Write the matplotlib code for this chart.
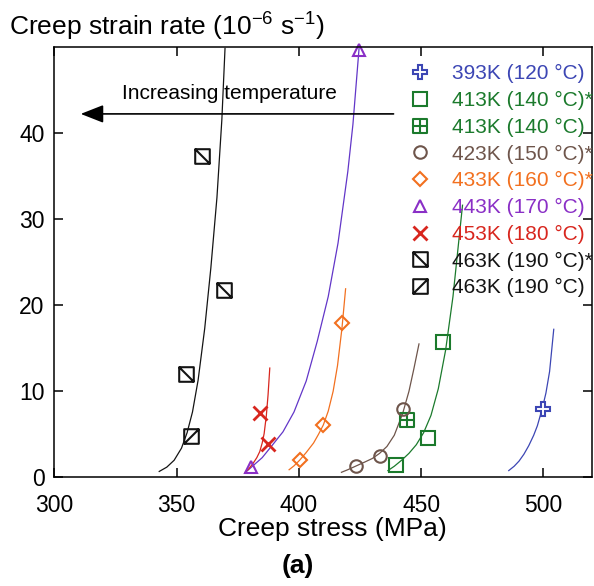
import matplotlib
matplotlib.use("Agg")
import matplotlib.pyplot as plt
from matplotlib.path import Path

plt.rcParams['font.family'] = ['Liberation Sans', 'DejaVu Sans']
plt.rcParams['mathtext.default'] = 'regular'

# measured points (stress MPa, creep strain rate 1e-6 /s)
x_393 = [500.0]
y_393 = [8.0]
x_413s = [439.6, 452.7, 458.9]
y_413s = [1.5, 4.6, 15.7]
x_413 = [444.2]
y_413 = [6.7]
x_423s = [423.5, 433.0, 442.4]
y_423s = [1.35, 2.55, 7.9]
x_433s = [400.3, 410.0, 417.6]
y_433s = [2.0, 6.1, 17.9]
x_443 = [380.6, 424.6]
y_443 = [1.2, 49.6]
x_453 = [384.0, 387.4]
y_453 = [7.5, 3.9]
x_463s = [353.8, 360.2, 369.3]
y_463s = [12.0, 37.3, 21.8]
x_463 = [356.0]
y_463 = [4.8]

# fitted curves
fit_393_x = [485.8, 488, 490, 492, 494, 496, 497.5, 499.5, 501, 502.5, 504.2]
fit_393_y = [0.8, 1.3, 1.9, 2.7, 3.7, 4.9, 6.0, 8.0, 9.8, 12.3, 17.2]
fit_413_x = [436.4, 439, 442, 445, 448, 451, 454, 457, 460, 463, 466.9]
fit_413_y = [0.8, 1.3, 2.0, 2.8, 3.8, 5.2, 7.2, 10.3, 14.8, 21.0, 31.6]
fit_423_x = [417.4, 420, 423.5, 427, 430, 433, 436, 439, 442.4, 445, 447, 449.1]
fit_423_y = [0.6, 0.9, 1.35, 1.8, 2.2, 2.8, 3.6, 4.9, 7.4, 10.0, 12.6, 15.5]
fit_433_x = [396.0, 398, 400.3, 403, 406, 408, 410, 412, 414, 415.8, 417.6, 419.1]
fit_433_y = [0.9, 1.35, 2.0, 2.9, 4.0, 5.0, 6.1, 7.7, 10.0, 13.0, 17.3, 21.9]
fit_443_x = [378.2, 381, 385, 389, 393.5, 398, 403, 407.5, 412, 416, 420, 422.1, 424.6]
fit_443_y = [0.6, 1.3, 2.3, 3.7, 5.3, 7.6, 11.2, 15.8, 21.0, 27.2, 35.5, 41.0, 49.8]
fit_453_x = [377.9, 379.5, 381.3, 382.8, 384.0, 385.0, 385.8, 386.7, 387.4, 388.1]
fit_453_y = [0.55, 1.0, 1.65, 2.3, 3.0, 4.0, 5.1, 7.2, 9.6, 12.7]
fit_463_x = [342.9, 346, 349, 352, 354.3, 356.5, 358.8, 361.5, 364, 366.5, 368.5, 369.8]
fit_463_y = [0.7, 1.2, 2.0, 3.4, 5.2, 7.6, 11.3, 17.3, 24.3, 32.5, 41.5, 49.8]

labels = ['393K (120 \u00b0C)', '413K (140 \u00b0C)*', '413K (140 \u00b0C)',
          '423K (150 \u00b0C)*', '433K (160 \u00b0C)*', '443K (170 \u00b0C)',
          '453K (180 \u00b0C)', '463K (190 \u00b0C)*', '463K (190 \u00b0C)']

c_blue = '#3c46b4'
c_green = '#1b7a2c'
c_brown = '#6e554b'
c_orange = '#f2701f'
c_purple = '#8a2fc6'
c_purple_line = '#6236c8'
c_red = '#d8261e'
c_black = '#141414'

M, L, C = Path.MOVETO, Path.LINETO, Path.CLOSEPOLY
sq = [(-1, -1), (1, -1), (1, 1), (-1, 1), (-1, -1)]
sq_codes = [M, L, L, L, C]
box_plus = Path(sq + [(0, -1), (0, 1), (-1, 0), (1, 0)], sq_codes + [M, L, M, L])
box_fall = Path(sq + [(-1, 1), (1, -1)], sq_codes + [M, L])
box_rise = Path(sq + [(-1, -1), (1, 1)], sq_codes + [M, L])

fig = plt.figure(figsize=(5.94, 5.86), dpi=100)
ax = fig.add_axes([0.0914, 0.1852, 0.9059, 0.7351])

lw_fit = 0.9
ax.plot(fit_393_x, fit_393_y, color=c_blue, lw=lw_fit)
ax.plot(fit_413_x, fit_413_y, color=c_green, lw=lw_fit)
ax.plot(fit_423_x, fit_423_y, color=c_brown, lw=lw_fit)
ax.plot(fit_433_x, fit_433_y, color=c_orange, lw=lw_fit)
ax.plot(fit_443_x, fit_443_y, color=c_purple_line, lw=lw_fit)
ax.plot(fit_453_x, fit_453_y, color=c_red, lw=lw_fit)
ax.plot(fit_463_x, fit_463_y, color=c_black, lw=lw_fit)

mk = dict(ls='none', mfc='none', mew=1.5, clip_on=False)
h = []
h += ax.plot(x_393, y_393, marker='P', ms=10, color=c_blue, mfc='white', ls='none', mew=1.5, label=labels[0])
h += ax.plot(x_413s, y_413s, marker='s', ms=10, color=c_green, label=labels[1], **mk)
h += ax.plot(x_413, y_413, marker=box_plus, ms=10.5, color=c_green, label=labels[2], **mk)
h += ax.plot(x_423s, y_423s, marker='o', ms=9, color=c_brown, label=labels[3], **mk)
h += ax.plot(x_433s, y_433s, marker='D', ms=7.5, color=c_orange, label=labels[4], **mk)
h += ax.plot(x_443, y_443, marker='^', ms=9, color=c_purple, label=labels[5], **mk)
h += ax.plot(x_453, y_453, marker='x', ms=10, color=c_red, label=labels[6], ls='none', mew=2)
h += ax.plot(x_463s, y_463s, marker=box_fall, ms=10.5, color=c_black, label=labels[7], **mk)
h += ax.plot(x_463, y_463, marker=box_rise, ms=10.5, color=c_black, label=labels[8], **mk)

leg = ax.legend(handles=h, loc='upper left', bbox_to_anchor=(0.6506, 0.9594),
                frameon=False, fontsize=15, handlelength=1.5, handletextpad=0.77,
                labelspacing=0.37, borderpad=0, borderaxespad=0,
                labelcolor=[c_blue, c_green, c_green, c_brown, c_orange,
                            c_purple, c_red, c_black, c_black])

ax.annotate('', xy=(310.8, 42.2), xytext=(438.7, 42.2),
            arrowprops=dict(arrowstyle='-|>,head_length=1.4,head_width=0.55',
                            color='black', lw=1.2, shrinkA=0, shrinkB=0,
                            mutation_scale=10))
ax.text(371.8, 44.6, 'Increasing temperature', fontsize=15, ha='center', va='center')

ax.set_xlim(300, 520)
ax.set_ylim(0, 50)
ax.set_xticks([300, 350, 400, 450, 500])
ax.set_yticks([0, 10, 20, 30, 40])
ax.tick_params(direction='in', length=6.5, width=1.1, labelsize=16.5, pad=7,
               top=True, right=True)
ax.tick_params(axis='x', pad=12)
for s in ax.spines.values():
    s.set_linewidth(1.1)

fig.text(332 / 594, 1 - 529 / 586, 'Creep stress (MPa)', fontsize=19,
         ha='center', va='center')
fig.text(9 / 594, 1 - 36 / 586, r'Creep strain rate (10$^{-6}$ s$^{-1}$)',
         fontsize=19, ha='left', va='baseline')
fig.text(298 / 594, 1 - 566 / 586, '(a)', fontsize=19, fontweight='bold',
         ha='center', va='center')

fig.savefig('out.png', dpi=100)
